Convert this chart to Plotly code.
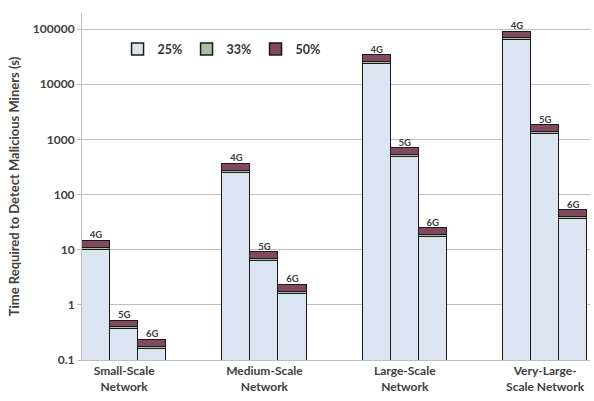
import plotly.graph_objects as go

groups = ["Small-Scale<br>Network", "Medium-Scale<br>Network", "Large-Scale<br>Network", "Very-Large-<br>Scale Network"]
gens = ["4G", "5G", "6G"]

# values per bar (group-major order: Small 4G,5G,6G, Medium 4G,5G,6G, ...)
v25 = [10, 0.36, 0.16, 250, 6.2, 1.6, 23000, 480, 17, 62000, 1250, 36]
v33 = [0.9, 0.03, 0.014, 22, 0.55, 0.14, 2000, 42, 1.5, 5400, 110, 3.1]
v50 = [3.6, 0.13, 0.06, 90, 2.3, 0.58, 8300, 175, 6.2, 22400, 450, 13]

ytickvals = [0.1, 1, 10, 100, 1000, 10000, 100000]
yticktext = ["0.1", "1", "10", "100", "1000", "10000", "100000"]

xpos = [5 * g + i for g in range(len(groups)) for i in range(len(gens))]
labels = [gens[i] for g in range(len(groups)) for i in range(len(gens))]
totals = [a + b + c for a, b, c in zip(v25, v33, v50)]

font = "Lato, Open Sans, sans-serif"
fig = go.Figure()
for name, vals, col in [("25%", v25, "#DCE6F2"), ("33%", v33, "#A3C39C"), ("50%", v50, "#844760")]:
    fig.add_trace(go.Bar(x=xpos, y=vals, name=name, width=1,
                         marker=dict(color=col, line=dict(color="#1a1a1a", width=1.5))))
fig.add_trace(go.Scatter(x=xpos, y=totals, mode="text", text=labels, textposition="top center",
                         textfont=dict(size=9.5, color="#404040", family=font, weight="bold"),
                         showlegend=False, hoverinfo="skip"))

fig.update_layout(
    width=594, height=401, barmode="stack", bargap=0,
    margin=dict(l=82, r=4, t=13, b=41),
    paper_bgcolor="white", plot_bgcolor="white",
    font=dict(family=font, color="#404040"),
    legend=dict(orientation="h", x=0.07, y=0.895, xanchor="left", yanchor="middle",
                font=dict(size=12.5, color="#333333", weight="bold"), bgcolor="rgba(0,0,0,0)",
                itemwidth=30, traceorder="normal", entrywidth=24, entrywidthmode="pixels"),
)
fig.update_xaxes(range=[-0.5, 17.6], tickmode="array",
                 tickvals=[5 * g + 1 for g in range(len(groups))], ticktext=groups,
                 showline=True, linecolor="#BFBFBF", linewidth=1, showgrid=False,
                 ticks="", tickfont=dict(size=12, color="#404040", weight="bold"), zeroline=False)
fig.update_yaxes(type="log", range=[-1, 5.29], tickmode="array", tickvals=ytickvals,
                 ticktext=yticktext, showgrid=True, gridcolor="#BFBFBF", gridwidth=1.2,
                 showline=True, linecolor="#BFBFBF", linewidth=1, ticks="outside",
                 ticklen=4, tickcolor="#BFBFBF", tickfont=dict(size=12, color="#404040", weight="bold"),
                 title=dict(text="Time Required to Detect Malicious Miners (s)",
                            font=dict(size=13, color="#404040", weight="bold"), standoff=10),
                 zeroline=False)
fig.write_html("out.html")
